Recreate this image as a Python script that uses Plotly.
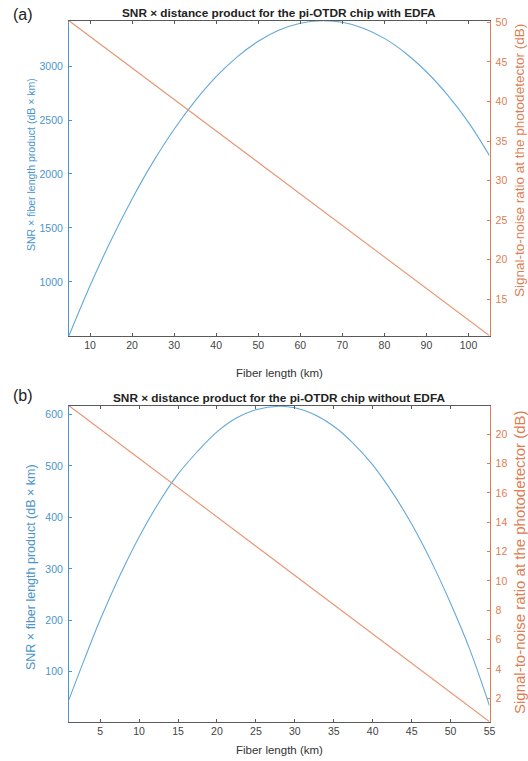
import plotly.graph_objects as go

# Panel (a): with EDFA
len_a = [5, 10, 15, 20, 25, 30, 35, 40, 45, 50, 55, 60, 65, 70, 75, 80, 85, 90, 95, 100, 105]
prod_a = [502, 964, 1387, 1769, 2112, 2415, 2678, 2902, 3085, 3229, 3333, 3397, 3420, 3406, 3351,
          3256, 3121, 2947, 2732, 2478, 2170]
snr_len_a = [5, 105]
snr_a = [50.2, 10.4]

# Panel (b): without EDFA
len_b = [1, 3, 5, 7.5, 10, 12.5, 15, 17.5, 20, 22.5, 25, 28, 30, 32.5, 35, 37.5, 40, 42.5, 45, 47.5, 50, 52.5, 55]
prod_b = [46, 125, 201, 286, 362, 428, 484, 528, 566, 593, 609, 616, 613, 600, 577, 544, 502, 449, 387, 315, 233, 142, 34]
snr_len_b = [1, 55]
snr_b = [21.95, 0.4]

titles = ["SNR × distance product for the pi-OTDR chip with EDFA",
          "SNR × distance product for the pi-OTDR chip without EDFA"]
panel_labels = ["(a)", "(b)"]
xlabel = "Fiber length (km)"
ylabel_left = "SNR × fiber length product (dB × km)"
ylabel_right = "Signal-to-noise ratio at the photodetector (dB)"
xticks_a = [10, 20, 30, 40, 50, 60, 70, 80, 90, 100]
xticks_b = [5, 10, 15, 20, 25, 30, 35, 40, 45, 50, 55]

BLUE = "#63a9da"
BLUE_T = "#4a95cc"
ORANGE = "#e9936e"
ORANGE_T = "#e07c52"
GRAY = "#5a5a5a"
FONT = "Liberation Sans, Arial, sans-serif"

W, H = 528, 761


def px(X):
    return X / W


def py(Y):
    return 1 - Y / H


xdom = [px(69), px(489.5)]
ydom_a = [py(335.7), py(20.7)]
ydom_b = [py(721.7), py(405.7)]

fig = go.Figure()
fig.add_trace(go.Scatter(x=len_a, y=prod_a, mode="lines", line=dict(color=BLUE, width=1.1, shape="spline"),
                         xaxis="x", yaxis="y", showlegend=False))
fig.add_trace(go.Scatter(x=snr_len_a, y=snr_a, mode="lines", line=dict(color=ORANGE, width=1.1),
                         xaxis="x", yaxis="y2", showlegend=False))
fig.add_trace(go.Scatter(x=len_b, y=prod_b, mode="lines", line=dict(color=BLUE, width=1.1, shape="spline"),
                         xaxis="x2", yaxis="y3", showlegend=False))
fig.add_trace(go.Scatter(x=snr_len_b, y=snr_b, mode="lines", line=dict(color=ORANGE, width=1.1),
                         xaxis="x2", yaxis="y4", showlegend=False))


def xax(dom_anchor, rng, ticks):
    return dict(domain=xdom, anchor=dom_anchor, range=rng, tickvals=ticks, ticks="inside", ticklen=3,
                tickcolor=GRAY, linecolor=GRAY, linewidth=1, showline=True, mirror="ticks",
                showgrid=False, zeroline=False, tickfont=dict(family=FONT, size=10.5, color="#444"))


def yleft(dom, rng, dtick, anchor):
    return dict(domain=dom, anchor=anchor, range=rng, dtick=dtick, ticks="inside", ticklen=3,
                tickcolor=BLUE_T, linecolor=BLUE_T, linewidth=1, showline=True, showgrid=False,
                zeroline=False, tickfont=dict(family=FONT, size=10.5, color=BLUE_T), ticklabelstandoff=3)


def yright(dom, rng, dtick, anchor, over):
    return dict(domain=dom, anchor=anchor, overlaying=over, side="right", range=rng, dtick=dtick,
                ticks="inside", ticklen=3, tickcolor=ORANGE_T, linecolor=ORANGE_T, linewidth=1,
                showline=True, showgrid=False, zeroline=False,
                tickfont=dict(family=FONT, size=10.5, color=ORANGE_T), ticklabelstandoff=3)


fig.update_layout(
    width=W, height=H,
    margin=dict(l=0, r=0, t=0, b=0, autoexpand=False),
    paper_bgcolor="white", plot_bgcolor="white",
    hovermode=False,
    xaxis=xax("y", [5, 105], xticks_a),
    yaxis=yleft(ydom_a, [502, 3420], 500, "x"),
    yaxis2=yright(ydom_a, [10.4, 50.2], 5, "x", "y"),
    xaxis2=xax("y3", [1, 55], xticks_b),
    yaxis3=yleft(ydom_b, [3, 617], 100, "x2"),
    yaxis4=yright(ydom_b, [0.4, 21.95], 2, "x2", "y3"),
)

ann = []
cx = (69 + 489.5) / 2
specs = [
    dict(ty=13, ly=14, xl=373, lmid=165, lsize=10.5, rmid=161, rsize=13.5),
    dict(ty=398, ly=395, xl=750, lmid=567, lsize=12.5, rmid=562, rsize=15),
]
for i, s in enumerate(specs):
    ann.append(dict(text="<b>" + titles[i] + "</b>", x=px(cx), y=py(s["ty"]), xref="paper", yref="paper",
                    showarrow=False, xanchor="center", yanchor="middle",
                    font=dict(family=FONT, size=11.8, color="#222")))
    ann.append(dict(text=panel_labels[i], x=px(11), y=py(s["ly"]), xref="paper", yref="paper",
                    showarrow=False, xanchor="left", yanchor="middle",
                    font=dict(family=FONT, size=16, color="#222")))
    ann.append(dict(text=xlabel, x=px(cx), y=py(s["xl"]), xref="paper", yref="paper",
                    showarrow=False, xanchor="center", yanchor="middle",
                    font=dict(family=FONT, size=11.5, color="#333")))
    ann.append(dict(text=ylabel_left, x=px(31), y=py(s["lmid"]), xref="paper", yref="paper",
                    showarrow=False, xanchor="center", yanchor="middle", textangle=-90,
                    font=dict(family=FONT, size=s["lsize"], color=BLUE_T)))
    ann.append(dict(text=ylabel_right, x=px(519), y=py(s["rmid"]), xref="paper", yref="paper",
                    showarrow=False, xanchor="center", yanchor="middle", textangle=-90,
                    font=dict(family=FONT, size=s["rsize"], color=ORANGE_T)))
fig.update_layout(annotations=ann)

# remove the page's default body margin so the figure fills the window exactly
fig.write_html("out.html", config={"displayModeBar": False},
               post_script="document.body.style.margin='0';document.body.style.overflow='hidden';")
